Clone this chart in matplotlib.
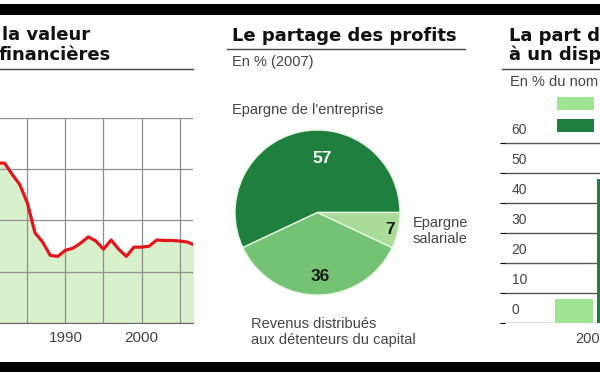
import matplotlib
matplotlib.use('Agg')
import matplotlib.pyplot as plt
from matplotlib.patches import Rectangle
from matplotlib.lines import Line2D

# Data
years = [1981, 1982, 1983, 1984, 1985, 1986, 1987, 1988, 1989, 1990, 1991, 1992, 1993,
         1994, 1995, 1996, 1997, 1998, 1999, 2000, 2001, 2002, 2003, 2004, 2005, 2006, 2007]
share = [75.6, 75.6, 74.5, 73.5, 71.7, 68.8, 67.9, 66.6, 66.5, 67.1, 67.3, 67.8, 68.4,
         68.0, 67.2, 68.1, 67.2, 66.5, 67.4, 67.4, 67.5, 68.1, 68.05, 68.05, 68.0, 67.9, 67.6]

pie_labels = ["Epargne de l'entreprise", "Revenus distribués\naux détenteurs du capital",
              "Epargne\nsalariale"]
pie_values = [57, 36, 7]

bar_values = [8, 48]
bar_year = "200"

W, H = 600, 372
narrow = ['Liberation Sans Narrow', 'Liberation Sans', 'DejaVu Sans']
plain = ['Liberation Sans', 'DejaVu Sans']
title_font = ['DejaVu Sans']
grey = '#444444'

fig = plt.figure(figsize=(6, 3.72), dpi=100)


def box(l, t, r, b):
    return [l / W, 1 - b / H, (r - l) / W, (b - t) / H]


def fx(x):
    return x / W


def fy(y):
    return 1 - y / H


def rule(x0, x1, y, lw=1.0, color='#444444'):
    fig.add_artist(Line2D([fx(x0), fx(x1)], [fy(y), fy(y)], color=color, lw=lw))


def title(x, y, s):
    fig.text(fx(x), fy(y), s, fontsize=13, fontweight='bold', family=title_font,
             color='#111111', va='baseline')


# black bands top and bottom
fig.add_artist(Rectangle((0, fy(15)), 1, 11 / H, color='black', lw=0))
fig.add_artist(Rectangle((0, 0), 1, 10.5 / H, color='black', lw=0))

# ---- left panel: line chart
ax1 = fig.add_axes(box(0, 118, 193.3, 323))
ax1.fill_between(years, share, 60, color='#d9f0cc', lw=0, zorder=0.5)
ax1.plot(years, share, color='#e3161c', lw=2.3, solid_joinstyle='round', zorder=3)
ax1.set_xlim(1981.4, 2006.8)
ax1.set_ylim(60, 80)
ax1.set_xticks([1985, 1990, 1995, 2000, 2005])
ax1.set_xticklabels(['', '1990', '', '2000', ''], fontsize=11, color=grey, family=plain)
ax1.set_yticks([60, 65, 70, 75, 80])
ax1.set_yticklabels([])
ax1.tick_params(length=0, pad=6)
ax1.grid(True, color='#8f8f8f', lw=0.9, zorder=1)
ax1.set_axisbelow('line')
for s in ['top', 'right', 'left']:
    ax1.spines[s].set_visible(False)
ax1.spines['bottom'].set_color('#666666')

title(1.5, 40.5, "la valeur")
title(-1, 60.5, "financières")
rule(0, 193, 69.3)

# ---- middle panel: pie
title(232, 41, "Le partage des profits")
rule(227, 465, 49.3)
fig.text(fx(232), fy(62), "En % (2007)", fontsize=10.5, family=narrow, color=grey, va='center')

ax2 = fig.add_axes(box(235, 130, 400, 295))
ax2.pie(pie_values, colors=['#1f7f3f', '#74c273', '#a9dc98'], startangle=0,
        counterclock=True, wedgeprops=dict(edgecolor='#e8f5e0', lw=1.0))
ax2.set_xlim(-1, 1)
ax2.set_ylim(-1, 1)
num_pos = [(0.05, 0.66), (0.03, -0.77), (0.88, -0.21)]
num_col = ['white', '#1a1a1a', '#1a1a1a']
for v, (px, py), c in zip(pie_values, num_pos, num_col):
    ax2.text(px, py, str(v), color=c, fontsize=12.5, fontweight='bold',
             ha='center', va='center', family=narrow)

fig.text(fx(232), fy(110), pie_labels[0], fontsize=10.5, family=narrow, color=grey, va='center')
fig.text(fx(251), fy(332), pie_labels[1], fontsize=10.5, family=narrow, color=grey,
         va='center', linespacing=1.1)
fig.text(fx(413), fy(231), pie_labels[2], fontsize=10.5, family=narrow, color=grey,
         va='center', linespacing=1.1)

# ---- right panel: bars
title(509, 41, "La part d")
title(509, 60.5, "à un disp")
rule(502, 600, 69)
fig.text(fx(510), fy(82), "En % du nom", fontsize=10.5, family=narrow, color=grey, va='center')

fig.add_artist(Rectangle((fx(557), fy(110)), 37 / W, 13 / H, color='#9ee592', lw=0))
fig.add_artist(Rectangle((fx(557), fy(132)), 37 / W, 13 / H, color='#1f7f3f', lw=0))

ax3 = fig.add_axes(box(505, 138.2, 600, 322.7))
ax3.bar([0, 1.12], bar_values, width=1.0, color=['#9ee592', '#1f7f3f'], zorder=3)
ax3.set_xlim(-1.826, 0.694)
ax3.set_ylim(0, 61.5)
ax3.set_yticks(range(0, 61, 10))
ax3.set_yticklabels([])
ax3.set_xticks([])
ax3.text(0.05, -5.3, bar_year, fontsize=10.5, family=plain, color=grey, ha='left', va='center')
ax3.grid(True, axis='y', color='#555555', lw=1.0)
for s in ['top', 'right', 'left', 'bottom']:
    ax3.spines[s].set_visible(False)
for v in range(0, 61, 10):
    ax3.text(0.07, v + 4.2, str(v), transform=ax3.get_yaxis_transform(), fontsize=10,
             family=narrow, color=grey, va='center')

fig.savefig('out.png', dpi=100)
